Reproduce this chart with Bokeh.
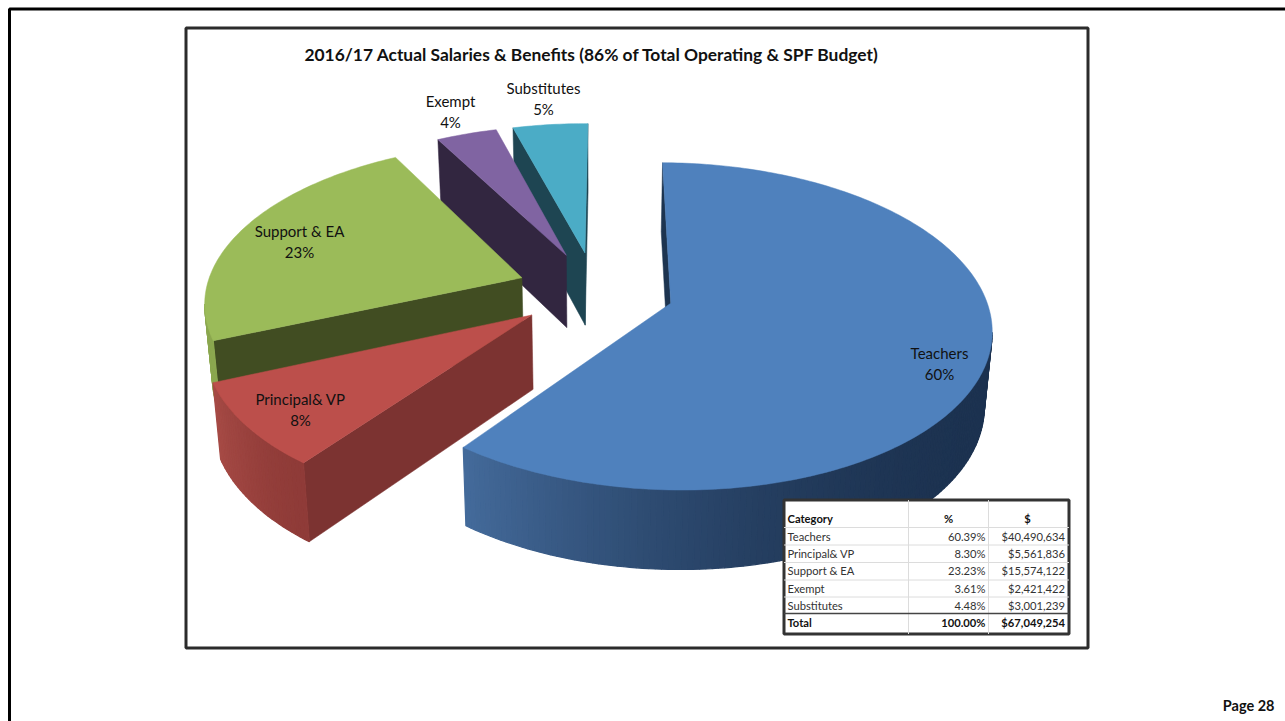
import math
from bokeh.core.properties import value
from bokeh.embed import file_html
from bokeh.models import Range1d
from bokeh.plotting import figure
from bokeh.resources import INLINE

# Budget breakdown
categories = ["Teachers", "Principal& VP", "Support & EA", "Exempt", "Substitutes"]
shares = [60.39, 8.30, 23.23, 3.61, 4.48]
pie_labels = ["60%", "8%", "23%", "4%", "5%"]
share_text = ["60.39%", "8.30%", "23.23%", "3.61%", "4.48%"]
dollar_text = ["$40,490,634", "$5,561,836", "$15,574,122", "$2,421,422", "$3,001,239"]
total_share = "100.00%"
total_dollars = "$67,049,254"
title = "2016/17 Actual Salaries & Benefits (86% of Total Operating & SPF Budget)"

# Pie camera and style
CX, CY, AX, BY, K, SHEAR, ROLL = 595.0, 290.0, 314.5, 157.0, 0.14, 8.0, 4.0
DEPTH, K2, SHRINK = 73.5, 0.07, 0.98
EXPLODE = 0.25
START = -1.4
FONT = value("Lato")

top_colors = ["#4f81bd", "#bc4f4b", "#9bbb59", "#8064a2", "#4bacc6"]
wall_colors = ["#1d3450", "#7c3331", "#414d22", "#322640", "#1e4552"]
rim_light = ["#446b9b", "#a64a45", "#8ba74f", "#66508a", "#3c8a9e"]
rim_dark = ["#1c3250", "#8f3b38", "#8ba74f", "#66508a", "#3c8a9e"]
draw_order = [4, 3, 2, 1, 0]


def project(x, y, below=False):
    w = 1 + K * y
    sx = CX + AX * x / w + SHEAR * y
    sy = CY - BY * y / w + ROLL * x
    if below:
        sx = CX + (sx - CX) * SHRINK
        sy += DEPTH / (1 + K2 * y)
    return sx, sy


def mix(a, b, t):
    ca = [int(a[i:i + 2], 16) for i in (1, 3, 5)]
    cb = [int(b[i:i + 2], 16) for i in (1, 3, 5)]
    return "#%02x%02x%02x" % tuple(round(p + (q - p) * t) for p, q in zip(ca, cb))


def outward(deg):
    r = math.radians(deg)
    return math.sin(r), math.cos(r)


p = figure(width=1285, height=721, output_backend="svg", toolbar_location=None,
           x_range=Range1d(0, 1285), y_range=Range1d(721, 0),
           min_border=0, outline_line_color=None, background_fill_color="white")
p.axis.visible = False
p.grid.visible = False
p.xaxis.visible = False
p.yaxis.visible = False

# Page border and chart frame
p.line([9, 9, 1285], [721, 8.5, 8.5], line_color="#000000", line_width=3)
p.quad(left=[185.5], right=[1087.5], top=[27.5], bottom=[647.5],
       fill_color="white", line_color="#2b2b2b", line_width=3)

# Wedge angles follow the cumulative shares, running clockwise from the top
total = sum(shares)
edges = [START]
for s in shares:
    edges.append(edges[-1] + 360 * s / total)

for i in draw_order:
    a0, a1 = edges[i], edges[i + 1]
    ux, uy = outward((a0 + a1) / 2)
    ox, oy = EXPLODE * ux, EXPLODE * uy
    steps = max(8, int((a1 - a0) / 1.0))
    angles = [a0 + (a1 - a0) * n / steps for n in range(steps + 1)]
    rim = [(ox + outward(a)[0], oy + outward(a)[1]) for a in angles]
    top = [project(*q) for q in rim]
    low = [project(*q, below=True) for q in rim]
    apex_t = project(ox, oy)
    apex_b = project(ox, oy, below=True)

    # Radial walls that face the camera
    for rim_t, rim_b, sign in ((top[0], low[0], -1), (top[-1], low[-1], 1)):
        ax_, ay_ = rim_t[0] - apex_t[0], rim_t[1] - apex_t[1]
        bx_, by_ = apex_b[0] - apex_t[0], apex_b[1] - apex_t[1]
        if (ax_ * by_ - ay_ * bx_) * sign > 0:
            p.patch([apex_t[0], rim_t[0], rim_b[0], apex_b[0]],
                    [apex_t[1], rim_t[1], rim_b[1], apex_b[1]],
                    fill_color=wall_colors[i], line_color=wall_colors[i], line_width=0.5)

    # Curved outer side, shaded from left to right on screen
    seen = [n for n in range(steps) if top[n + 1][0] < top[n][0]]
    if seen:
        x_hi, x_lo = top[seen[0]][0], top[seen[-1] + 1][0]
        for n in seen:
            t = ((x_hi - top[n][0]) / max(1.0, x_hi - x_lo))
            c = mix(rim_dark[i], rim_light[i], t ** 1.8)
            p.patch([top[n][0], top[n + 1][0], low[n + 1][0], low[n][0]],
                    [top[n][1], top[n + 1][1], low[n + 1][1], low[n][1]],
                    fill_color=c, line_color=c, line_width=1.2)

    # Top face
    p.patch([apex_t[0]] + [q[0] for q in top], [apex_t[1]] + [q[1] for q in top],
            fill_color=top_colors[i], line_color=top_colors[i], line_width=0.5)

# Title and slice labels
p.text([591.5], [53.5], text=[title], text_font=FONT, text_font_style="bold", text_font_size="17.4px",
       text_color="#111111", text_align="center", text_baseline="middle")
label_x = [939, 300, 299, 450, 543]
label_y = [352.5, 398.5, 230.5, 100.5, 87.5]
for name, pct, x, y in zip(categories, pie_labels, label_x, label_y):
    p.text([x, x], [y, y + 20.5], text=[name, pct], text_font=FONT, text_font_size="15px",
           text_color="#111111", text_align="center", text_baseline="middle")

# Summary table
T_L, T_R, T_T, T_B = 783.5, 1068.5, 499.5, 633.5
p.quad(left=[T_L], right=[T_R], top=[T_T], bottom=[T_B], fill_color="white",
       line_color="#333333", line_width=3)
row_rules = [527, 544.5, 562, 579.5, 596.5]
p.segment(x0=[T_L] * 5, x1=[T_R] * 5, y0=row_rules, y1=row_rules, line_color="#dcdcdc", line_width=1)
p.segment(x0=[908, 988], x1=[908, 988], y0=[T_T, T_T], y1=[T_B, T_B], line_color="#dcdcdc", line_width=1)
p.segment(x0=[T_L], x1=[T_R], y0=[613], y1=[613], line_color="#444444", line_width=1.5)

row_y = [535.5, 552.5, 570, 587.5, 604.5]
ts = "11.2px"
p.text([787], [518], text=["Category"], text_font=FONT, text_font_style="bold", text_font_size=ts,
       text_color="#111111", text_baseline="middle")
p.text([948, 1027], [518, 518], text=["%", "$"], text_font=FONT, text_font_style="bold",
       text_font_size=ts, text_color="#111111", text_align="center", text_baseline="middle")
p.text([787] * 5, row_y, text=categories, text_font=FONT, text_font_size=ts,
       text_color="#333333", text_baseline="middle")
p.text([985] * 5, row_y, text=share_text, text_font=FONT, text_font_size=ts,
       text_color="#333333", text_align="right", text_baseline="middle")
p.text([1064.5] * 5, row_y, text=dollar_text, text_font=FONT, text_font_size=ts,
       text_color="#333333", text_align="right", text_baseline="middle")
p.text([787], [621.5], text=["Total"], text_font=FONT, text_font_style="bold", text_font_size=ts,
       text_color="#111111", text_baseline="middle")
p.text([985, 1064.5], [621.5, 621.5], text=[total_share, total_dollars], text_font=FONT, text_font_style="bold",
       text_font_size=ts, text_color="#111111", text_align="right", text_baseline="middle")

# Page number
p.text([1274], [704.5], text=["Page 28"], text_font=FONT, text_font_style="bold", text_font_size="14.5px",
       text_color="#111111", text_align="right", text_baseline="middle")

open("out.html", "w").write(file_html(p, INLINE))
